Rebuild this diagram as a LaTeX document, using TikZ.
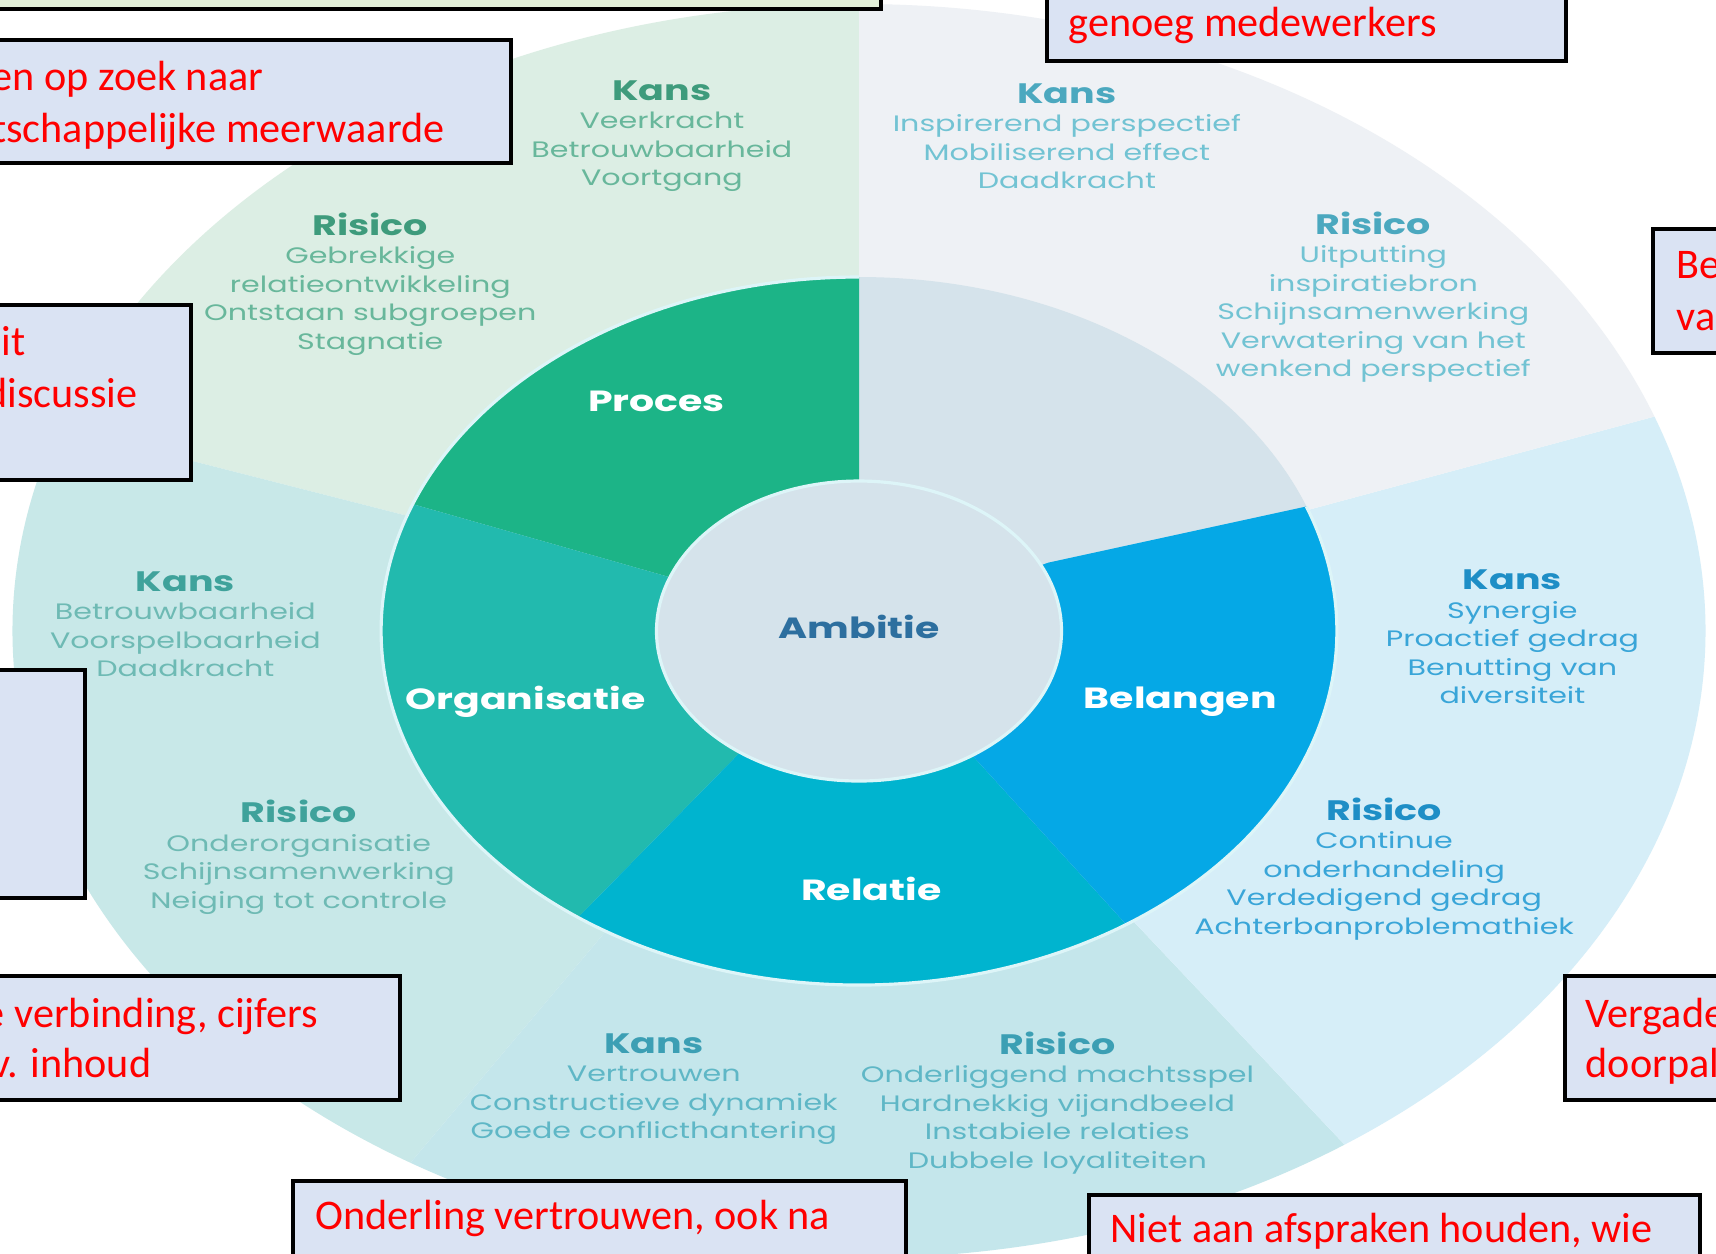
\documentclass[tikz,border=0pt]{standalone}
\usepackage{fontspec}
\setmainfont{Carlito}
\newfontfamily\wheelfont{Poppins}
\definecolor{boxblue}{HTML}{DAE3F3}
\definecolor{boxgreen}{HTML}{E2F0D9}
\definecolor{proces}{HTML}{1CB487}
\definecolor{organisatie}{HTML}{22BAAE}
\definecolor{relatie}{HTML}{00B4CF}
\definecolor{belangen}{HTML}{05A8E6}
\definecolor{ambitie}{HTML}{D5E3EB}
\definecolor{ambtext}{HTML}{2D6F9F}
\definecolor{rimcol}{HTML}{DDF5F8}
\definecolor{outtl}{HTML}{DCEEE4}
\definecolor{outtr}{HTML}{EEF1F5}
\definecolor{outrt}{HTML}{D6EEF8}
\definecolor{outbt}{HTML}{C4E6EB}
\definecolor{outlf}{HTML}{C8E8E8}
\definecolor{tlhead}{HTML}{3E9B7C}
\definecolor{tlbody}{HTML}{68B79B}
\definecolor{trhead}{HTML}{4BA8BF}
\definecolor{trbody}{HTML}{72C3D3}
\definecolor{rthead}{HTML}{1E8EC6}
\definecolor{rtbody}{HTML}{39A5D8}
\definecolor{bthead}{HTML}{3C9FB4}
\definecolor{btbody}{HTML}{5FB7C6}
\definecolor{lfhead}{HTML}{3FA29B}
\definecolor{lfbody}{HTML}{6EBAB4}
\newcommand{\kop}[2]{{\color{#1}\bfseries\fontsize{8}{8.1}\selectfont #2}}

\begin{document}
\begin{tikzpicture}[x=0.01cm, y=-0.01cm]
    \tikzstyle{callout} = [draw, line width=1.1pt, fill=boxblue];
    \tikzstyle{note} = [text=red, font=\fontsize{12}{14.7}\selectfont, inner sep=0pt];
    \tikzstyle{seglabel} = [text=white, font=\wheelfont\bfseries\fontsize{8.3}{10}\selectfont];
    \tikzstyle{block} = [align=center, font=\wheelfont\fontsize{6.35}{8.1}\selectfont];
    \useasboundingbox (0,0) rectangle (1716,1253);
    \clip (0,0) rectangle (1716,1253);
    \fill[white] (0,0) rectangle (1716,1253);

    % wheel, stretched sideways
    \begin{scope}[shift={(859,631)}, y=0.01cm, xscale=1.35, transform shape]
    \fill[outtl] (0,0) -- (90:627) arc[start angle=90, end angle=161, radius=627] -- cycle;
    \fill[outlf] (0,0) -- (161:627) arc[start angle=161, end angle=238, radius=627] -- cycle;
    \fill[outbt] (0,0) -- (238:627) arc[start angle=238, end angle=305, radius=627] -- cycle;
    \fill[outrt] (0,0) -- (305:627) arc[start angle=305, end angle=380, radius=627] -- cycle;
    \fill[outtr] (0,0) -- (20:627) arc[start angle=20, end angle=90, radius=627] -- cycle;

    \fill[ambitie] (0,0) circle[radius=354];
    \fill[proces] (90:354) arc[start angle=90, end angle=159, radius=354] -- (159:150) arc[start angle=159, end angle=90, radius=150] -- cycle;
    \fill[organisatie] (159:354) arc[start angle=159, end angle=234, radius=354] -- (234:150) arc[start angle=234, end angle=159, radius=150] -- cycle;
    \fill[relatie] (234:354) arc[start angle=234, end angle=304, radius=354] -- (304:150) arc[start angle=304, end angle=234, radius=150] -- cycle;
    \fill[belangen] (20.6:354) arc[start angle=20.6, end angle=-56, radius=354] -- (-56:150) arc[start angle=-56, end angle=26, radius=150] -- (26:156) -- cycle;
    \draw[rimcol, line width=0.9pt] (90:354) arc[start angle=90, end angle=380.6, radius=354];
    \draw[rimcol, line width=0.9pt, fill=ambitie] (0,0) circle[radius=150];

    \node[text=ambtext, font=\wheelfont\bfseries\fontsize{8.3}{10}\selectfont] (ambitie) at (0,4) {Ambitie};
    \node[seglabel] (proces) at (-150,230) {Proces};
    \node[seglabel] (organisatie) at (-247,-71) {Organisatie};
    \node[seglabel] (relatie) at (9,-258) {Relatie};
    \node[seglabel] (belangen) at (238,-71) {Belangen};

    \node[block, text=tlbody] (tlkans) at (-146,495) {\kop{tlhead}{Kans}\\Veerkracht\\Betrouwbaarheid\\Voortgang};
    \node[block, text=tlbody] (tlrisico) at (-362,347) {\kop{tlhead}{Risico}\\Gebrekkige\\relatieontwikkeling\\Ontstaan subgroepen\\Stagnatie};
    \node[block, text=trbody] (trkans) at (154,495) {\kop{trhead}{Kans}\\Inspirerend perspectief\\Mobiliserend effect\\Daadkracht};
    \node[block, text=trbody] (trrisico) at (381,334) {\kop{trhead}{Risico}\\Uitputting\\inspiratiebron\\Schijnsamenwerking\\Verwatering van het\\wenkend perspectief};
    \node[block, text=rtbody] (rtkans) at (484,-6) {\kop{rthead}{Kans}\\Synergie\\Proactief gedrag\\Benutting van\\diversiteit};
    \node[block, text=rtbody] (rtrisico) at (389,-238) {\kop{rthead}{Risico}\\Continue\\onderhandeling\\Verdedigend gedrag\\Achterbanproblemathiek};
    \node[block, text=btbody] (btkans) at (-152,-458) {\kop{bthead}{Kans}\\Vertrouwen\\Constructieve dynamiek\\Goede conflicthantering};
    \node[block, text=btbody] (btrisico) at (147,-472) {\kop{bthead}{Risico}\\Onderliggend machtsspel\\Hardnekkig vijandbeeld\\Instabiele relaties\\Dubbele loyaliteiten};
    \node[block, text=lfbody] (lfkans) at (-499,7) {\kop{lfhead}{Kans}\\Betrouwbaarheid\\Voorspelbaarheid\\Daadkracht};
    \node[block, text=lfbody] (lfrisico) at (-415,-226) {\kop{lfhead}{Risico}\\Onderorganisatie\\Schijnsamenwerking\\Neiging tot controle};
    \end{scope}

    % callouts
    \draw[callout, fill=boxgreen] (-20,-20) rectangle (881,9);
    \draw[callout] (1047,-20) rectangle (1566,61);
    \draw[callout] (-20,40) rectangle (511,163);
    \draw[callout] (-20,305) rectangle (191,480);
    \draw[callout] (-20,670) rectangle (85,898);
    \draw[callout] (-20,976) rectangle (400,1100);
    \draw[callout] (293,1181) rectangle (906,1300);
    \draw[callout] (1089,1195) rectangle (1700,1300);
    \draw[callout] (1565,976) rectangle (1740,1100);
    \draw[callout] (1653,229) rectangle (1740,353);

    \node[note, anchor=base west] (genoeg) at (1068,36) {genoeg medewerkers};
    \node[note, anchor=base east] (zoek) at (264,90) {en op zoek naar};
    \node[note, anchor=base east] (meerwaarde) at (445,142) {tschappelijke meerwaarde};
    \node[note, anchor=base east] (eit) at (26,355) {eit};
    \node[note, anchor=base east] (discussie) at (138,407) {discussie};
    \node[note, anchor=base east] (verbinding) at (319,1027) {e verbinding, cijfers};
    \node[note, anchor=base east] (inhoud) at (152,1077) {v. inhoud};
    \node[note, anchor=base west] (onderling) at (315,1229) {Onderling vertrouwen, ook na};
    \node[note, anchor=base west] (afspraken) at (1110,1242) {Niet aan afspraken houden, wie};
    \node[note, anchor=base west] (vergade) at (1585,1027) {Vergade};
    \node[note, anchor=base west] (doorpal) at (1585,1077) {doorpal};
    \node[note, anchor=base west] (be) at (1676,278) {Be};
    \node[note, anchor=base west] (vas) at (1676,330) {vas};
\end{tikzpicture}
\end{document}
